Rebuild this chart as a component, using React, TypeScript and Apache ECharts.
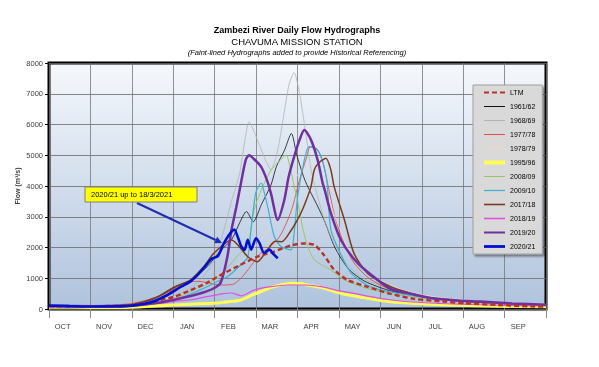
import React, { useEffect, useRef } from 'react';
import * as echarts from 'echarts';

// Water-year day index: 0 = 1 Oct, 365 = 30 Sep
const months = ['OCT', 'NOV', 'DEC', 'JAN', 'FEB', 'MAR', 'APR', 'MAY', 'JUN', 'JUL', 'AUG', 'SEP'];
const yMin = 0;
const yMax = 8000;
const yStep = 1000;

const ltm = [[0,90],[30,90],[61,130],[78,250],[92,400],[104,610],[116,850],[128,1150],[139,1400],[153,1700],[165,1860],[177,2060],[187,2130],[195,2080],[202,1750],[209,1300],[219,950],[234,720],[250,500],[268,330],[290,240],[305,190],[330,130],[354,85],[365,80]];
const y1961 = [[0,90],[31,85],[61,130],[75,290],[92,720],[104,940],[116,1370],[126,1900],[134,2250],[140,2800],[145,3170],[150,2840],[156,3400],[163,4030],[167,4630],[173,5170],[178,5710],[182,5000],[187,4300],[190,3980],[195,3545],[202,2900],[210,2000],[220,1300],[232,900],[250,600],[270,420],[300,280],[330,190],[365,130]];
const y1968 = [[0,100],[31,90],[61,150],[92,400],[110,900],[120,1500],[128,2500],[134,3500],[140,4410],[143.5,5390],[147,6090],[153,5500],[159,4845],[163,4520],[168,5170],[173,6470],[176.5,7340],[180,7685],[184,7015],[187.5,6040],[190,5280],[192.5,4520],[197,3700],[203,2800],[212,1900],[222,1300],[235,900],[255,600],[280,400],[310,260],[340,180],[365,130]];
const y1977 = [[0,100],[31,100],[61,180],[80,400],[92,650],[100,850],[110,900],[125,780],[135,800],[141,1000],[146,1270],[150,1500],[155,1800],[162,2000],[170,2400],[178,3200],[184,4200],[189,4900],[192,5280],[197,5200],[201,4800],[205,4000],[210,3000],[216,2200],[224,1500],[235,1000],[250,650],[270,420],[300,280],[330,180],[365,120]];
const y1978 = [[0,100],[31,95],[61,150],[92,400],[120,900],[140,1500],[160,2500],[175,3800],[185,4500],[192,4700],[200,4300],[210,3000],[222,1800],[240,1000],[270,500],[310,280],[365,150]];
const y1995 = [[0,60],[31,50],[61,60],[92,130],[110,170],[124,195],[135,250],[141,293],[149,450],[153,520],[160,650],[165,725],[178,835],[185,830],[190,780],[202,673],[214,510],[234,348],[251,237],[270,180],[300,120],[330,90],[365,70]];
const y2008 = [[0,90],[31,85],[61,120],[92,350],[110,700],[120,900],[130,1300],[140,1800],[146,2030],[150,3110],[153,3545],[157,3980],[163,4520],[169,4800],[174,5010],[177.5,4520],[180,4000],[182.5,3545],[186,2700],[190,2030],[195,1590],[207,1270],[217,943],[235,650],[260,430],[290,300],[320,200],[365,120]];
const y2009 = [[0,90],[31,85],[61,120],[92,300],[110,600],[124,900],[131,1050],[140,1400],[146,1700],[148.3,2570],[151.7,3760],[154,4000],[156,4090],[158,3800],[160.6,3330],[165.5,2350],[170.5,2030],[177.7,1920],[180,2460],[182.6,3650],[187.5,4845],[191,5280],[197,5170],[200.6,4845],[204,4195],[207,2570],[214,1810],[222,1160],[236,725],[250,560],[265,450],[290,320],[320,220],[365,130]];
const y2017 = [[0,100],[31,90],[61,150],[80,400],[92,700],[104,950],[114,1400],[121,1810],[134,2245],[146,1700],[153,1540],[160,1900],[166,2200],[171,2190],[178,2570],[185,3120],[189,3545],[192.4,3980],[194.8,4520],[198,4750],[203.4,4900],[207,4520],[209.4,3980],[217,2895],[224,1810],[234,1160],[251,725],[265,520],[280,360],[305,250],[335,180],[365,130]];
const y2018 = [[0,70],[31,60],[61,90],[92,250],[104,300],[116,400],[128,500],[134,520],[141,430],[151,620],[163,725],[176,780],[188,780],[200,725],[212,600],[224,510],[236,400],[250,300],[270,220],[300,160],[335,120],[365,100]];
const y2019 = [[0,100],[31,90],[61,110],[80,200],[92,300],[104,420],[112,520],[120,650],[126,850],[131,1700],[134,2570],[137.5,3300],[141,4100],[144.5,4850],[147,5000],[150,4900],[155.7,4630],[160,4200],[163,3760],[168,2895],[172.8,3545],[176,4300],[180,4950],[184,5500],[187.5,5820],[192.4,5500],[197.3,4845],[201,4090],[202.5,3870],[207,3120],[214.4,2245],[226.7,1490],[241.4,943],[251,650],[265,500],[280,355],[300,280],[317,240],[340,180],[365,140]];
const y2020 = [[0,110],[15,95],[31,80],[50,85],[61,110],[75,220],[87,455],[97,725],[104,900],[109,1100],[114,1350],[119,1620],[124,1720],[128,2100],[132,2400],[136,2580],[139,2300],[141,2050],[143.5,1920],[146,2250],[148.5,1930],[152,2300],[154.5,2150],[158,1820],[162,1930],[164.5,1800],[168,1650]];

const seriesNames = ['LTM', '1961/62', '1968/69', '1977/78', '1978/79', '1995/96', '2008/09', '2009/10', '2017/18', '2018/19', '2019/20', '2020/21'];
const seriesValues = [ltm, y1961, y1968, y1977, y1978, y1995, y2008, y2009, y2017, y2018, y2019, y2020];
const seriesColors = ['#b8322a', '#111111', '#b4b4b4', '#e0504a', '#f0d6c8', '#ffff55', '#9bc46a', '#3fb0d0', '#7a3c1c', '#e050d8', '#7030a0', '#0010d0'];
const seriesWidths = [2.4, 0.8, 0.8, 0.9, 0.8, 3, 1, 1.2, 1.5, 1.2, 2.5, 2.6];
const legendWidths = [2, 1, 1, 1, 1, 4, 1, 1.2, 1.6, 1.6, 2, 2.8];
const seriesZ = [5, 2, 2, 2, 2, 2, 2, 2, 2, 2, 3, 6];

const FONT = '"Liberation Sans", Arial, sans-serif';

export default function App() {
  const ref = useRef<HTMLDivElement>(null);
  useEffect(() => {
    const chart = echarts.init(ref.current!, null, { renderer: 'svg' });
    const series = seriesNames.map((name, i) => ({
      name,
      type: 'line',
      xAxisIndex: 0,
      yAxisIndex: 0,
      data: seriesValues[i],
      symbol: 'none',
      showSymbol: false,
      smooth: 0.25,
      z: seriesZ[i],
      lineStyle: {
        color: seriesColors[i],
        width: seriesWidths[i],
        type: i === 0 ? [5, 3] : 'solid',
      },
      itemStyle: { color: seriesColors[i] },
    }));

    const tipX = 222, tipY = 243, fromX = 137, fromY = 203;
    const dx = tipX - fromX, dy = tipY - fromY;
    const len = Math.sqrt(dx * dx + dy * dy);
    const ux = dx / len, uy = dy / len;
    const bx = tipX - 7 * ux, by = tipY - 7 * uy;
    const px = -uy, py = ux;

    chart.setOption({
      animation: false,
      textStyle: { fontFamily: FONT },
      grid: {
        left: 49, right: 53, top: 63, bottom: 58,
        show: true,
        backgroundColor: new echarts.graphic.LinearGradient(0, 0, 0, 1, [
          { offset: 0, color: '#f5f8fc' },
          { offset: 1, color: '#afc3dd' },
        ]),
        borderColor: '#000',
        borderWidth: 3,
      },
      xAxis: [
        { type: 'value', min: 0, max: 365, show: false },
        {
          type: 'category',
          data: months,
          position: 'bottom',
          boundaryGap: true,
          axisLine: { show: false },
          axisTick: { show: true, length: 9, interval: 0, lineStyle: { color: '#8a8a8a' } },
          axisLabel: { interval: 0, color: '#404040', fontSize: 7.5, margin: 13, padding: [0, 14, 0, 0], fontFamily: FONT },
          splitLine: { show: true, interval: 0, lineStyle: { color: '#777', width: 0.8 } },
        },
      ],
      yAxis: {
        type: 'value',
        min: yMin, max: yMax, interval: yStep,
        name: 'Flow (m³/s)',
        nameLocation: 'middle',
        nameGap: 28,
        nameMoveOverlap: false,
        nameTextStyle: { fontSize: 7, fontWeight: 'bold', color: '#404040', fontFamily: FONT },
        axisLine: { show: false },
        axisTick: { show: true, length: 4, lineStyle: { color: '#000' } },
        axisLabel: { color: '#404040', fontSize: 7.5, margin: 6, fontFamily: FONT, formatter: (v: number) => String(v) },
        splitLine: { lineStyle: { color: '#6a6a6a', width: 0.8 } },
      },
      legend: {
        data: seriesNames.map((n, i) => ({ name: n, lineStyle: { width: legendWidths[i] } })),
        orient: 'vertical',
        left: 473, top: 85,
        itemWidth: 21, itemHeight: 8, itemGap: 7,
        padding: [4, 7, 4, 9],
        backgroundColor: '#d9d9d9',
        borderColor: '#a0a0a0', borderWidth: 1,
        shadowColor: 'rgba(0,0,0,0.45)', shadowBlur: 2, shadowOffsetX: 2, shadowOffsetY: 2,
        itemStyle: { opacity: 0 },
        textStyle: { fontSize: 7, color: '#000', fontFamily: FONT },
      },
      graphic: [
        { type: 'text', x: 297, y: 30, style: { text: 'Zambezi River Daily Flow Hydrographs', font: `bold 9px ${FONT}`, fill: '#000', align: 'center', verticalAlign: 'middle', textAlign: 'center', textVerticalAlign: 'middle' } },
        { type: 'text', x: 297, y: 41.5, style: { text: 'CHAVUMA MISSION STATION', font: `9.5px ${FONT}`, fill: '#000', align: 'center', verticalAlign: 'middle', textAlign: 'center', textVerticalAlign: 'middle' } },
        { type: 'text', x: 297, y: 52, style: { text: '(Faint-lined Hydrographs added to provide Historical Referencing)', font: `italic 7.5px ${FONT}`, fill: '#000', align: 'center', verticalAlign: 'middle', textAlign: 'center', textVerticalAlign: 'middle' } },
        { type: 'line', z: 100, shape: { x1: fromX, y1: fromY, x2: bx, y2: by }, style: { stroke: '#1c2fb0', lineWidth: 2 } },
        { type: 'polygon', z: 100, shape: { points: [[tipX, tipY], [bx + 3.5 * px, by + 3.5 * py], [bx - 3.5 * px, by - 3.5 * py]] }, style: { fill: '#1c2fb0' } },
        { type: 'rect', z: 100, shape: { x: 85, y: 187, width: 112, height: 15 }, style: { fill: '#ffff00', stroke: '#7f7f7f', lineWidth: 1 } },
        { type: 'text', z: 101, x: 91, y: 194.5, style: { text: '2020/21 up to 18/3/2021', font: `7.5px ${FONT}`, fill: '#000', align: 'left', verticalAlign: 'middle', textAlign: 'left', textVerticalAlign: 'middle' } },
      ],
      series,
    });
    return () => chart.dispose();
  }, []);
  return <div ref={ref} style={{ position: 'fixed', left: 0, top: 0, width: 599, height: 367 }} />;
}
